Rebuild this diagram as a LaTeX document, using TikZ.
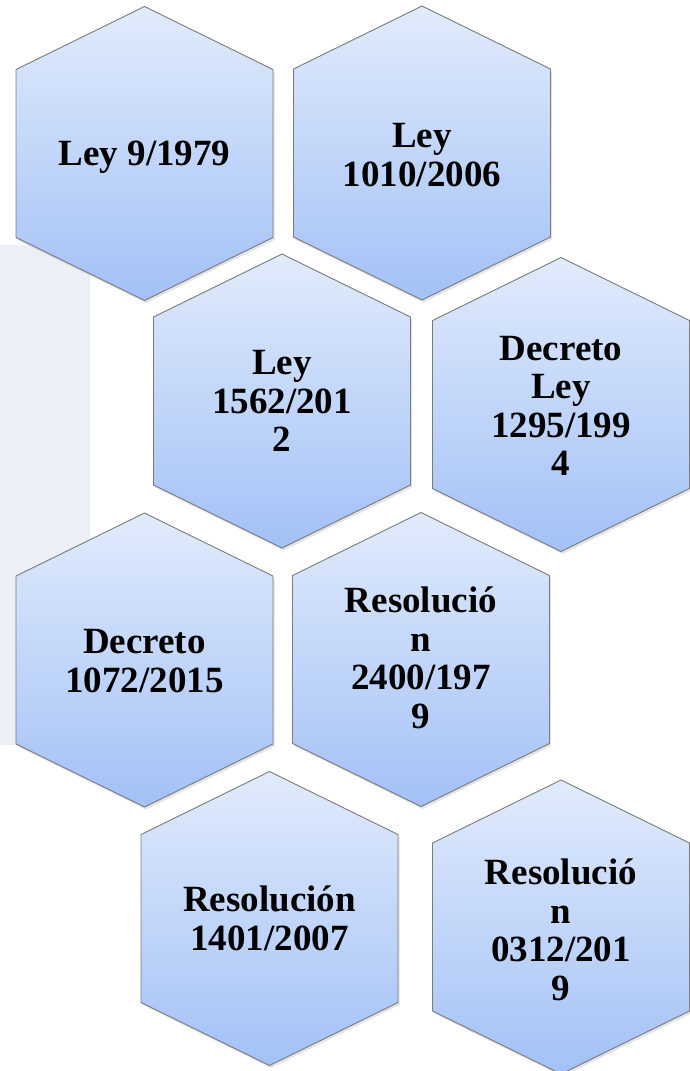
\documentclass[tikz,border=0pt]{standalone}
\usepackage{fontspec}
\setmainfont{Liberation Serif}
\usetikzlibrary{shadows}
\definecolor{hexTop}{HTML}{E1EBFC}
\definecolor{hexBot}{HTML}{A3C1F6}
\definecolor{hexLine}{HTML}{7A7A7A}
\definecolor{panelgray}{HTML}{ECEFF6}
\tikzset{
  hexshape/.style={draw=hexLine, line width=0.9pt, top color=hexTop, bottom color=hexBot,
    drop shadow={opacity=0.22, shadow xshift=1.5pt, shadow yshift=-2.5pt}},
  hexlabel/.style={font=\fontsize{37}{38.5}\selectfont\bfseries, align=center, text=black, inner sep=0pt},
}
\begin{document}
\begin{tikzpicture}[x=1pt,y=-1pt]
\useasboundingbox (0,0) rectangle (690,1071);
\fill[panelgray] (0,245) rectangle (90,745);
% hexagons: centre, half width 128.5, half height 147, vertical edge 168
\foreach \cx/\cy in {144.5/153.5, 422/153, 282/401, 561/404.5, 144.5/660, 421/659.5, 269.5/918.5, 561/927}{
  \path[hexshape] (\cx,\cy) ++(0,-147) -- ++(128.5,63) -- ++(0,168) -- ++(-128.5,63)
     -- ++(-128.5,-63) -- ++(0,-168) -- cycle;
}
\node[hexlabel] (h1) at (144.5,157) {Ley 9/1979};
\node[hexlabel] (h2) at (422,155) {Ley\\1010/2006};
\node[hexlabel] (h3) at (282,401) {Ley\\1562/201\\2};
\node[hexlabel] (h4) at (561,406) {Decreto\\Ley\\1295/199\\4};
\node[hexlabel] (h5) at (144.5,661) {Decreto\\1072/2015};
\node[hexlabel] (h6) at (421,658) {Resolució\\n\\2400/197\\9};
\node[hexlabel] (h7) at (269.5,918.5) {Resolución\\1401/2007};
\node[hexlabel] (h8) at (561,930) {Resolució\\n\\0312/201\\9};
\end{tikzpicture}
\end{document}
